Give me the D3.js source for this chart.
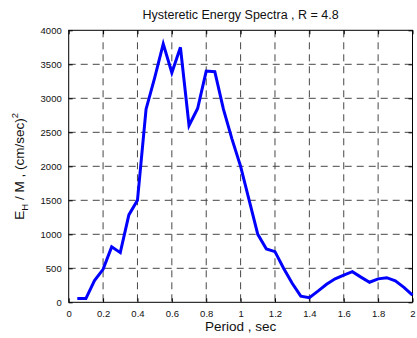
<!DOCTYPE html>
<html>
<head>
<meta charset="utf-8">
<script src="https://cdn.jsdelivr.net/npm/d3@7/dist/d3.min.js"></script>
<style>
  html, body { margin: 0; padding: 0; background: #fff; }
  svg { display: block; font-family: "Liberation Sans", Arial, sans-serif; }
</style>
</head>
<body>
<svg id="chart" width="417" height="338"></svg>
<script>
// Hysteretic energy spectrum, R = 4.8
const periods = [0.05, 0.10, 0.15, 0.20, 0.25, 0.30, 0.35, 0.40, 0.45, 0.50,
                 0.55, 0.60, 0.65, 0.70, 0.75, 0.80, 0.85, 0.90, 0.95, 1.00,
                 1.05, 1.10, 1.15, 1.20, 1.25, 1.30, 1.35, 1.40, 1.45, 1.50,
                 1.55, 1.60, 1.65, 1.70, 1.75, 1.80, 1.85, 1.90, 1.95, 2.00];
const energy = [55, 55, 320, 485, 815, 730, 1285, 1500, 2840, 3300,
                3800, 3375, 3750, 2600, 2850, 3400, 3390, 2840, 2400, 2000,
                1500, 1000, 785, 745, 500, 280, 90, 68, 165, 265,
                345, 400, 450, 370, 295, 345, 362, 315, 220, 105];
const xTicks = [0, 0.2, 0.4, 0.6, 0.8, 1, 1.2, 1.4, 1.6, 1.8, 2];
const yTicks = [0, 500, 1000, 1500, 2000, 2500, 3000, 3500, 4000];

const svg = d3.select("#chart");
const m = { left: 68.7, right: 412.5, top: 30.3, bottom: 302.3 };

const x = d3.scaleLinear().domain([0, 2]).range([m.left, m.right]);
const y = d3.scaleLinear().domain([0, 4000]).range([m.bottom, m.top]);

// dashed grid
const grid = svg.append("g").attr("stroke", "#000").attr("stroke-width", 1)
  .attr("stroke-dasharray", "7,5").attr("opacity", 0.72);
grid.selectAll("line.vx").data(xTicks.slice(1, -1)).join("line")
  .attr("x1", d => x(d)).attr("x2", d => x(d))
  .attr("y1", m.top).attr("y2", m.bottom);
grid.selectAll("line.hy").data(yTicks.slice(1, -1)).join("line")
  .attr("x1", m.left).attr("x2", m.right)
  .attr("y1", d => y(d)).attr("y2", d => y(d));

// axes with inward ticks
const tickLen = 4;
const xAxis = svg.append("g").attr("transform", `translate(0,${m.bottom})`)
  .call(d3.axisBottom(x).tickValues(xTicks).tickSize(-tickLen).tickPadding(8)
        .tickFormat(d3.format("~g")));
const xAxisTop = svg.append("g").attr("transform", `translate(0,${m.top})`)
  .call(d3.axisTop(x).tickValues(xTicks).tickSize(-tickLen).tickFormat(""));
const yAxis = svg.append("g").attr("transform", `translate(${m.left},0)`)
  .call(d3.axisLeft(y).tickValues(yTicks).tickSize(-tickLen).tickPadding(7)
        .tickFormat(d3.format("d")));
const yAxisRight = svg.append("g").attr("transform", `translate(${m.right},0)`)
  .call(d3.axisRight(y).tickValues(yTicks).tickSize(-tickLen).tickFormat(""));

[xAxis, xAxisTop, yAxis, yAxisRight].forEach(g => {
  g.select(".domain").remove();
  g.selectAll("line").attr("stroke", "#000");
  g.selectAll("text").attr("font-size", 9.5).attr("fill", "#111")
    .attr("font-family", "Liberation Sans, Arial, sans-serif");
});

// frame
svg.append("rect")
  .attr("x", m.left).attr("y", m.top)
  .attr("width", m.right - m.left).attr("height", m.bottom - m.top)
  .attr("fill", "none").attr("stroke", "#000").attr("stroke-width", 1);

// spectrum curve
const line = d3.line().x((d, i) => x(periods[i])).y(d => y(d));
svg.append("path").datum(energy)
  .attr("d", line)
  .attr("fill", "none")
  .attr("stroke", "#0000ff")
  .attr("stroke-width", 3)
  .attr("stroke-linejoin", "miter");

// title
svg.append("text")
  .attr("x", (m.left + m.right) / 2).attr("y", 19)
  .attr("text-anchor", "middle").attr("font-size", 12.5).attr("fill", "#111")
  .text("Hysteretic Energy Spectra , R = 4.8");

// x label
svg.append("text")
  .attr("x", (m.left + m.right) / 2).attr("y", 331)
  .attr("text-anchor", "middle").attr("font-size", 13.5).attr("fill", "#111")
  .text("Period , sec");

// y label with subscript and superscript
const yl = svg.append("text")
  .attr("transform", `translate(24,${(m.top + m.bottom) / 2}) rotate(-90)`)
  .attr("text-anchor", "middle").attr("font-size", 13.5).attr("fill", "#111");
yl.append("tspan").text("E");
yl.append("tspan").attr("font-size", 9.5).attr("dy", 4).text("H");
yl.append("tspan").attr("dy", -4).text(" / M , (cm/sec)");
yl.append("tspan").attr("font-size", 9.5).attr("dy", -6).text("2");
</script>
</body>
</html>
